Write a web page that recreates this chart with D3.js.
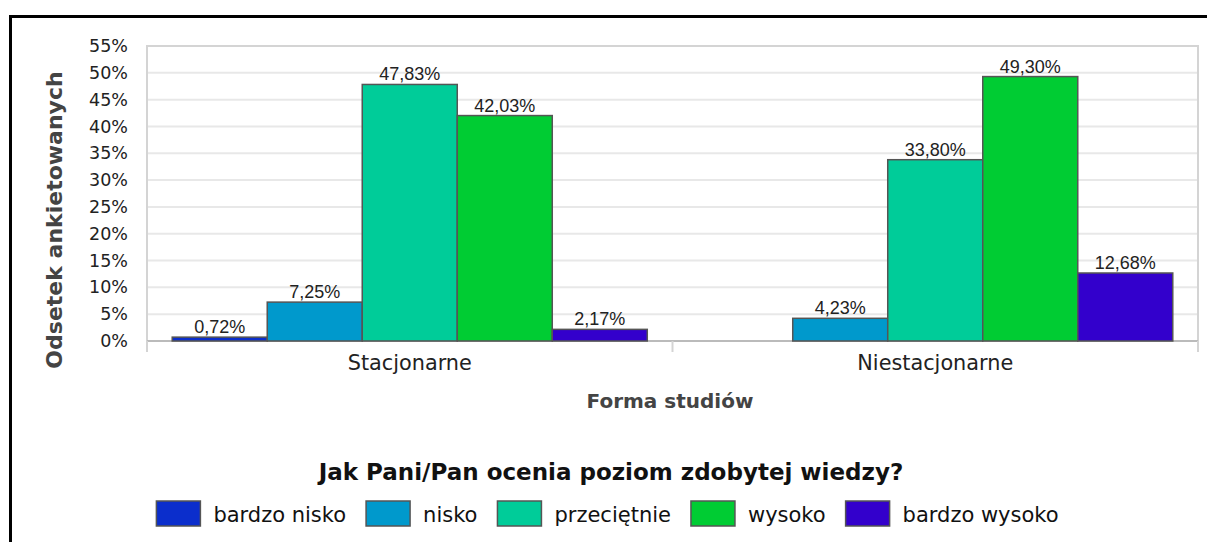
<!DOCTYPE html>
<html><head><meta charset="utf-8">
<script src="https://cdn.jsdelivr.net/npm/d3@7"></script>
<style>body{margin:0;background:#fff}svg{display:block}</style>
</head><body>
<script>
const categories = ["Stacjonarne", "Niestacjonarne"];
const seriesNames = ["bardzo nisko", "nisko", "przeciętnie", "wysoko", "bardzo wysoko"];
const seriesColors = ["#0b2ecc", "#0099cc", "#00cc99", "#00cc33", "#3300cc"];
const valuesStacjonarne = [0.72, 7.25, 47.83, 42.03, 2.17];
const valuesNiestacjonarne = [0, 4.23, 33.80, 49.30, 12.68];
const yTicks = [0, 5, 10, 15, 20, 25, 30, 35, 40, 45, 50, 55];
const yTitle = "Odsetek ankietowanych";
const xTitle = "Forma studiów";
const legendTitle = "Jak Pani/Pan ocenia poziom zdobytej wiedzy?";

const values = [valuesStacjonarne, valuesNiestacjonarne];
const W = 1207, H = 542;
const svg = d3.select("body").append("svg").attr("width", W).attr("height", H);

// outer frame
svg.append("rect").attr("x", 0).attr("y", 0).attr("width", W).attr("height", H).attr("fill", "#fff");
svg.append("line").attr("x1", 9).attr("x2", W).attr("y1", 16.5).attr("y2", 16.5).attr("stroke", "#000").attr("stroke-width", 3);
svg.append("line").attr("x1", 10.5).attr("x2", 10.5).attr("y1", 15).attr("y2", H).attr("stroke", "#000").attr("stroke-width", 3);

const L = 147, R = 1198, T = 46, B = 341;
const y = d3.scaleLinear().domain([0, 55]).range([B, T]);
const x0 = d3.scaleBand().domain(categories).range([L, R]).padding(0);
const groupW = x0.bandwidth() * 0.904;
const x1 = d3.scaleBand().domain(seriesNames).range([0, groupW]).padding(0);

// grid
svg.append("g").selectAll("line").data(yTicks.filter(d => d > 0 && d < 55)).join("line")
  .attr("x1", L).attr("x2", R).attr("y1", d => y(d)).attr("y2", d => y(d))
  .attr("stroke", "#e8e8e8").attr("stroke-width", 2);
// plot border
svg.append("path").attr("d", `M${L},${B}V${T}H${R}V${B}`).attr("fill", "none").attr("stroke", "#d4d4d4").attr("stroke-width", 2);

// y axis
const yAxis = d3.axisLeft(y).tickValues(yTicks).tickFormat(d => d + "%").tickSize(0).tickPadding(19);
const gy = svg.append("g").attr("transform", `translate(${L},0)`).call(yAxis);
gy.select(".domain").remove();
gy.selectAll("text").attr("font-family", "DejaVu Sans").attr("font-size", 17.5).attr("fill", "#222");

// x axis
const xAxis = d3.axisBottom(x0).tickSize(0).tickPadding(14);
const gx = svg.append("g").attr("transform", `translate(0,${B})`).call(xAxis);
gx.select(".domain").remove();
gx.selectAll("text").attr("font-family", "DejaVu Sans").attr("font-size", 20.8).attr("fill", "#222");
svg.append("line").attr("x1", L).attr("x2", R).attr("y1", B).attr("y2", B).attr("stroke", "#bbb").attr("stroke-width", 2);
const sepTicks = [L, x0(categories[1]), R];
svg.append("g").selectAll("line").data(sepTicks).join("line")
  .attr("x1", d => d).attr("x2", d => d).attr("y1", B).attr("y2", B + 11)
  .attr("stroke", "#d4d4d4").attr("stroke-width", 2);

// bars
const groups = svg.append("g").selectAll("g").data(categories).join("g")
  .attr("transform", d => `translate(${x0(d) + (x0.bandwidth() - groupW) / 2},0)`);
groups.each(function(cat, ci) {
  const data = seriesNames.map((s, i) => ({s, i, v: values[ci][i]})).filter(d => d.v > 0);
  const g = d3.select(this);
  g.selectAll("rect").data(data).join("rect")
    .attr("x", d => x1(d.s)).attr("width", x1.bandwidth())
    .attr("y", d => y(d.v)).attr("height", d => B - y(d.v))
    .attr("fill", d => seriesColors[d.i]).attr("stroke", "#555").attr("stroke-width", 1.5);
  g.selectAll("text").data(data).join("text")
    .attr("x", d => x1(d.s) + x1.bandwidth() / 2).attr("y", d => y(d.v) - 4)
    .attr("text-anchor", "middle").attr("font-family", "Liberation Sans").attr("font-size", 18)
    .attr("fill", "#222")
    .text(d => d.v.toFixed(2).replace(".", ",") + "%");
});

// axis titles
svg.append("text").attr("transform", `translate(62,${220}) rotate(-90)`).attr("text-anchor", "middle")
  .attr("font-family", "DejaVu Sans").attr("font-weight", "bold").attr("font-size", 22).attr("fill", "#444").text(yTitle);
svg.append("text").attr("x", 670).attr("y", 408).attr("text-anchor", "middle")
  .attr("font-family", "DejaVu Sans").attr("font-weight", "bold").attr("font-size", 20).attr("fill", "#444").text(xTitle);

// legend title
svg.append("text").attr("x", 611).attr("y", 480).attr("text-anchor", "middle")
  .attr("font-family", "DejaVu Sans").attr("font-weight", "bold").attr("font-size", 23).attr("fill", "#111").text(legendTitle);

// legend
const legend = svg.append("g");
const items = legend.selectAll("g").data(seriesNames).join("g");
items.append("rect").attr("y", 501).attr("width", 44).attr("height", 25)
  .attr("fill", (d, i) => seriesColors[i]).attr("stroke", "#555").attr("stroke-width", 1.5);
items.append("text").attr("x", 57).attr("y", 522).attr("font-family", "DejaVu Sans").attr("font-size", 21)
  .attr("fill", "#111").text(d => d);
let xpos = 0;
const offs = [];
items.each(function() {
  offs.push(xpos);
  const tw = d3.select(this).select("text").node().getComputedTextLength();
  xpos += 57 + tw + 20;
});
const totalW = xpos - 20;
const startX = 607.5 - totalW / 2;
items.attr("transform", (d, i) => `translate(${startX + offs[i]},0)`);
</script>
</body></html>
